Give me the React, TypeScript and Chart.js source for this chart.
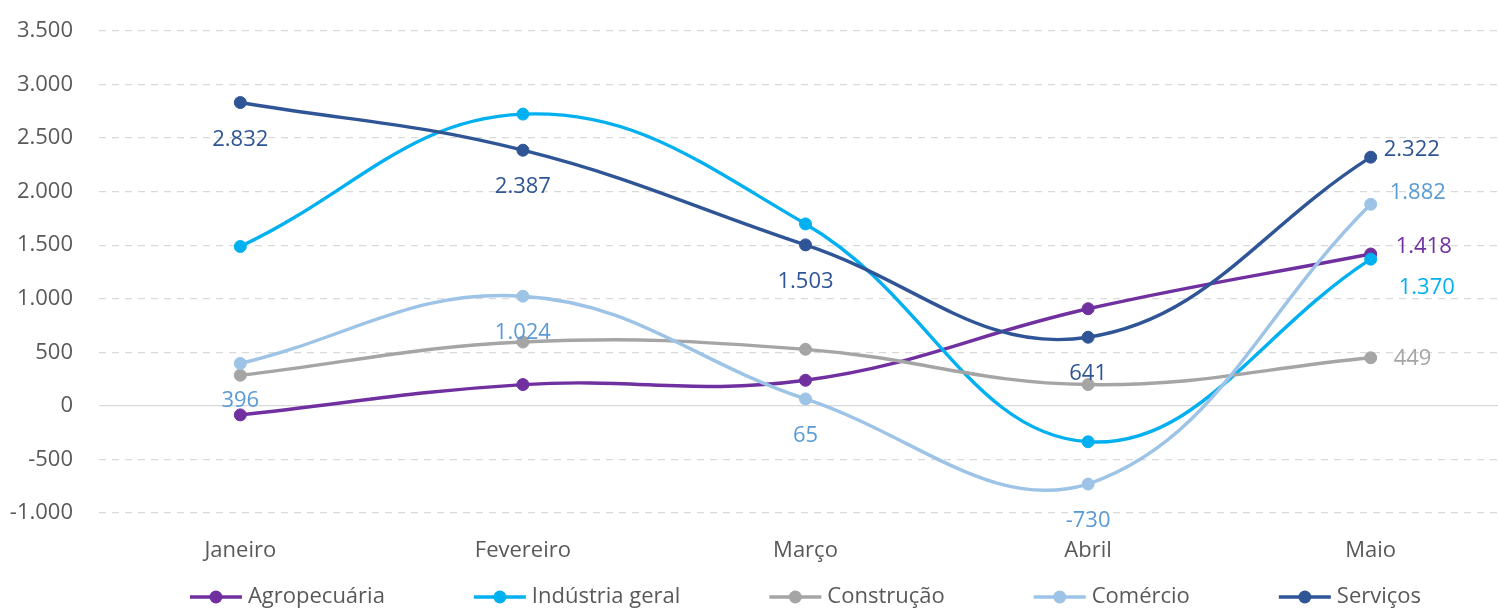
import React, { useEffect, useRef } from 'react';
import { Chart, registerables } from 'chart.js';

Chart.register(...registerables);

const categories = ['Janeiro', 'Fevereiro', 'Março', 'Abril', 'Maio'];
const seriesNames = ['Agropecuária', 'Indústria geral', 'Construção', 'Comércio', 'Serviços'];
const agropecuaria = [-84, 199, 239, 907, 1418];
const industriaGeral = [1488, 2724, 1699, -335, 1370];
const construcao = [286, 596, 528, 199, 449];
const comercio = [396, 1024, 65, -730, 1882];
const servicos = [2832, 2387, 1503, 641, 2322];
const yMin = -1000;
const yMax = 3500;
const yStep = 500;

const seriesValues = [agropecuaria, industriaGeral, construcao, comercio, servicos];
const lineColors = ['#7030A0', '#00B0F0', '#A5A5A5', '#9DC3E6', '#2F5597'];
const labelColors = ['#7030A0', '#00B0F0', '#A5A5A5', '#5B9BD5', '#2F5597'];
// which points carry a value label (by category index)
const labelledPoints = [[4], [4], [4], [0, 1, 2, 3, 4], [0, 1, 2, 3, 4]];
// offsets for the labels at the last category (placed to the right)
const rightLabelOffsets = [[25, -7], [28, 29], [23, 1], [19, -12], [13, -7]];
const belowLabelOffset = 37;

const FONT = "'Open Sans', 'Noto Sans', sans-serif";
const TEXT_COLOR = '#595959';

function fmt(v: number): string {
  const s = Math.abs(Math.round(v)).toString().replace(/\B(?=(\d{3})+(?!\d))/g, '.');
  return (v < 0 ? '-' : '') + s;
}

const dataLabelsPlugin = {
  id: 'dataLabelsCustom',
  afterDatasetsDraw(chart: any) {
    const ctx = chart.ctx;
    ctx.save();
    ctx.font = `22px ${FONT}`;
    ctx.textBaseline = 'middle';
    chart.data.datasets.forEach((ds: any, di: number) => {
      const meta = chart.getDatasetMeta(di);
      labelledPoints[di].forEach((idx) => {
        const pt = meta.data[idx];
        if (!pt) return;
        const text = fmt(ds.data[idx]);
        ctx.fillStyle = labelColors[di];
        if (idx === categories.length - 1) {
          ctx.textAlign = 'left';
          ctx.fillText(text, pt.x + rightLabelOffsets[di][0], pt.y + rightLabelOffsets[di][1]);
        } else {
          ctx.textAlign = 'center';
          ctx.fillText(text, pt.x, pt.y + belowLabelOffset);
        }
      });
    });
    ctx.restore();
  },
};

const legendPlugin = {
  id: 'legendCustom',
  afterDraw(chart: any) {
    const ctx = chart.ctx;
    const area = chart.chartArea;
    ctx.save();
    ctx.font = `22px ${FONT}`;
    ctx.textBaseline = 'middle';
    ctx.textAlign = 'left';
    const markerW = 52;
    const textGap = 6;
    const itemGap = 89;
    const widths = seriesNames.map((n) => markerW + textGap + ctx.measureText(n).width);
    const total = widths.reduce((a, b) => a + b, 0) + itemGap * (seriesNames.length - 1);
    let x = (area.left + area.right) / 2 - total / 2;
    const y = area.bottom + 84;
    seriesNames.forEach((name, i) => {
      ctx.strokeStyle = lineColors[i];
      ctx.lineWidth = 3.5;
      ctx.beginPath();
      ctx.moveTo(x, y);
      ctx.lineTo(x + markerW, y);
      ctx.stroke();
      ctx.fillStyle = lineColors[i];
      ctx.beginPath();
      ctx.arc(x + markerW / 2, y, 6.5, 0, Math.PI * 2);
      ctx.fill();
      ctx.fillStyle = TEXT_COLOR;
      ctx.fillText(name, x + markerW + textGap, y);
      x += widths[i] + itemGap;
    });
    ctx.restore();
  },
};

export default function App() {
  const canvasRef = useRef<HTMLCanvasElement | null>(null);

  useEffect(() => {
    const canvas = canvasRef.current;
    if (!canvas) return;
    Chart.defaults.font.family = FONT;
    const chart = new Chart(canvas, {
      type: 'line',
      data: {
        labels: categories,
        datasets: seriesNames.map((name, i) => ({
          label: name,
          data: seriesValues[i],
          borderColor: lineColors[i],
          backgroundColor: lineColors[i],
          pointBackgroundColor: lineColors[i],
          pointBorderColor: lineColors[i],
          pointRadius: 6,
          pointBorderWidth: 1,
          borderWidth: 3.4,
          tension: 0.4,
          fill: false,
          order: seriesNames.length - i,
        })),
      },
      options: {
        animation: false,
        responsive: false,
        maintainAspectRatio: false,
        layout: { padding: { top: 31, left: 0, right: 0, bottom: 57 } },
        plugins: {
          legend: { display: false },
          tooltip: { enabled: false },
          title: { display: false },
        },
        scales: {
          x: {
            type: 'category',
            offset: true,
            grid: { display: false, drawTicks: false },
            border: { display: false },
            ticks: { color: TEXT_COLOR, font: { size: 22, family: FONT }, padding: 25 },
            afterFit: (s: any) => { s.height = 50; },
          },
          y: {
            type: 'linear',
            min: yMin,
            max: yMax,
            ticks: {
              stepSize: yStep,
              color: TEXT_COLOR,
              font: { size: 22, family: FONT },
              padding: 26,
              callback: (v: any) => fmt(Number(v)),
            },
            grid: {
              color: '#D9D9D9',
              lineWidth: 1.3,
              drawTicks: false,
            },
            border: {
              display: false,
              dash: (ctx: any) => (ctx.tick && ctx.tick.value === 0 ? [] : [7, 6]),
            },
            afterFit: (s: any) => {
              s.width = 99;
              s.paddingTop = 0;
              s.paddingBottom = 0;
            },
          },
        },
      },
      plugins: [dataLabelsPlugin, legendPlugin],
    });
    return () => chart.destroy();
  }, []);

  return (
    <div style={{ position: 'fixed', left: 0, top: 0, width: 1498, height: 608, overflow: 'hidden', background: '#fff' }}>
      <canvas ref={canvasRef} width={1519} height={620} style={{ display: 'block', width: 1519, height: 620 }} />
    </div>
  );
}
